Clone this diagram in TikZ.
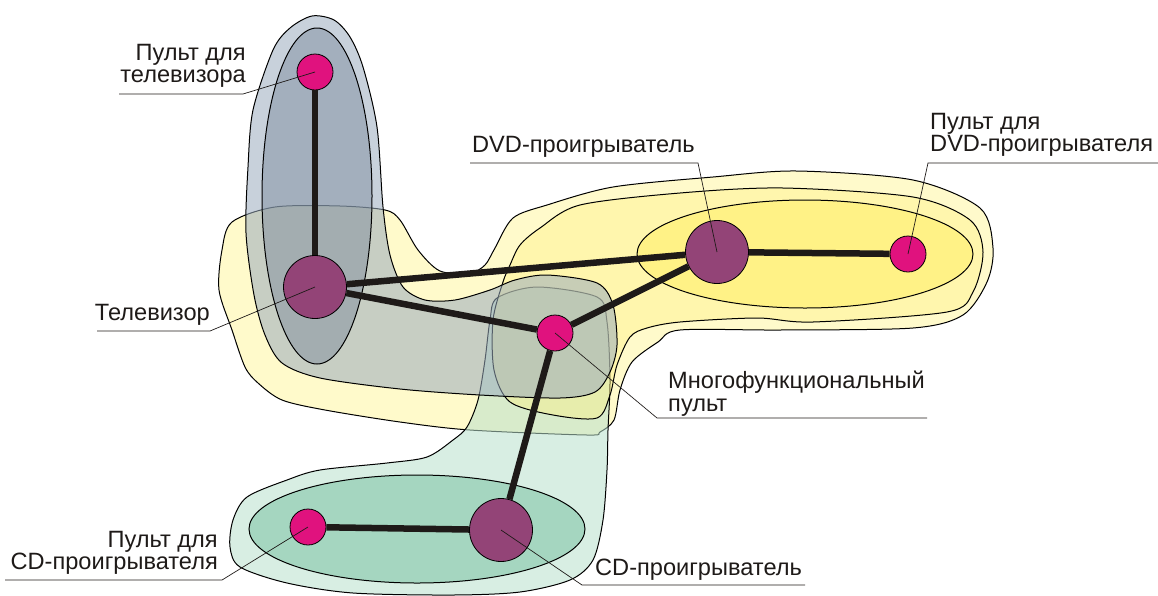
\documentclass[tikz,border=0pt]{standalone}
\usepackage{fontspec}
\setmainfont{Liberation Sans}
\usetikzlibrary{positioning}

\definecolor{remotecol}{HTML}{E0127E}
\definecolor{devicecol}{HTML}{934477}
\definecolor{linkcol}{HTML}{1E1A18}
\definecolor{tvouter}{HTML}{9AACBE}
\definecolor{tvinner}{HTML}{77879A}
\definecolor{dvdouter}{HTML}{FFF6A0}
\definecolor{dvdmid}{HTML}{FFF080}
\definecolor{dvdinner}{HTML}{FFF060}
\definecolor{cdouter}{HTML}{B8E0CC}
\definecolor{cdinner}{HTML}{7CC4A4}

\tikzset{
  blob/.style={draw=black, line width=1pt, fill opacity=0.55},
  remote/.style={circle, draw=black, line width=0.8pt, fill=remotecol, minimum size=36pt, inner sep=0pt},
  device/.style={circle, draw=black, line width=0.8pt, fill=devicecol, minimum size=63pt, inner sep=0pt},
  link/.style={line width=6.5pt, draw=linkcol},
  leader/.style={line width=0.7pt, draw=linkcol},
  lbl/.style={font=\fontsize{23.6}{22.5}\selectfont, text=linkcol, inner sep=0pt}
}

\begin{document}
\begin{tikzpicture}[x=1pt, y=-1pt]
    \useasboundingbox (0,0) rectangle (1158,595);
    % группа DVD: внешняя область (с телевизором)
    \path[blob, fill=dvdouter] plot[smooth cycle] coordinates {
        (232,222) (275,207) (340,206) (385,210) (400,220) (418,250) (440,271)
        (470,273) (485,265) (495,248) (513,218) (547,205) (613,187) (713,177)
        (797,171) (913,180) (980,208) (993,248) (987,282) (963,315) (913,328)
        (780,330) (680,330) (658,342) (632,362) (620,390) (614,420) (600,432)
        (587,435) (470,430) (400,422) (325,410) (282,400) (258,383) (245,367)
        (232,330) (219,290) (222,250)};
    % группа CD: внешняя область
    \path[blob, fill=cdouter] plot[smooth cycle] coordinates {
        (233,520) (247,497) (287,480) (320,470) (387,463) (427,457) (453,440)
        (467,427) (478,400) (485,360) (490,320) (497,298) (537,287) (597,297)
        (607,322) (610,380) (608,430) (607,470) (603,520) (593,560) (570,580)
        (520,592) (453,595) (353,593) (287,583) (240,567) (230,547)};
    % группа DVD: средняя область
    \path[blob, fill=dvdmid, fill opacity=0.4] plot[smooth cycle] coordinates {
        (503,282) (510,265) (520,245) (540,228) (580,205) (680,193) (783,188)
        (913,197) (970,220) (983,252) (973,292) (947,312) (813,322) (757,318)
        (680,322) (647,328) (630,337) (617,365) (610,395) (597,418) (553,415)
        (510,402) (494,370) (493,320)};
    % пары пульт + устройство
    \path[blob, fill=dvdinner, fill opacity=0.5] (805,254) ellipse (168 and 54);
    \path[blob, fill=cdinner] (417,529) ellipse (168 and 54);
    % группа телевизора
    \path[blob, fill=tvouter] plot[smooth cycle] coordinates {
        (312,16) (334,20) (350,37) (363,67) (377,127) (383,207) (390,255)
        (403,287) (425,300) (455,300) (490,290) (515,280) (547,275) (597,283)
        (613,305) (617,345) (610,372) (595,392) (560,398) (480,395) (400,389)
        (320,378) (282,363) (265,335) (254,295) (246,233) (248,167) (253,110)
        (273,50) (290,28)};
    \path[blob, fill=tvinner, fill opacity=0.45] (317,196) ellipse (55 and 168);

    % устройства и пульты
    \node[remote] (tvr) at (315,72) {};
    \node[device] (tv) at (315,287) {};
    \node[remote] (multi) at (555,333) {};
    \node[device] (dvd) at (717,252) {};
    \node[remote] (dvdr) at (908,254) {};
    \node[remote] (cdr) at (308,527) {};
    \node[device] (cd) at (501,530) {};

    % связи
    \draw[link] (tvr) -- (tv);
    \draw[link] (tv) -- (dvd);
    \draw[link] (tv) -- (multi);
    \draw[link] (multi) -- (dvd);
    \draw[link] (dvd) -- (dvdr);
    \draw[link] (multi) -- (cd);
    \draw[link] (cdr) -- (cd);

    % подписи
    \node[lbl, align=right, anchor=north east] (tvrL) at (246,44) {Пульт для\\телевизора};
    \node[lbl, anchor=north east] (tvL) at (210,304) {Телевизор};
    \node[lbl, anchor=north west] (dvdL) at (472,136) {DVD-проигрыватель};
    \node[lbl, align=left, anchor=north west] (dvdrL) at (930,113) {Пульт для\\DVD-проигрывателя};
    \node[lbl, align=left, anchor=north west] (multiL) at (668,371) {Многофункциональный\\пульт};
    \node[lbl, align=right, anchor=north east] (cdrL) at (218,531) {Пульт для\\CD-проигрывателя};
    \node[lbl, anchor=north west] (cdL) at (595,559) {CD-проигрыватель};

    % выноски
    \coordinate (tvrA) at (119,94);   \coordinate (tvrB) at (243,94);
    \coordinate (tvA) at (97,331);    \coordinate (tvB) at (210,331);
    \coordinate (dvdA) at (470,163);  \coordinate (dvdB) at (698,163);
    \coordinate (dvdrA) at (1158,163); \coordinate (dvdrB) at (928,163);
    \coordinate (multiA) at (927,418); \coordinate (multiB) at (657,418);
    \coordinate (cdrA) at (5,580);    \coordinate (cdrB) at (222,580);
    \coordinate (cdA) at (805,585);   \coordinate (cdB) at (582,585);
    \draw[leader] (tvrA) -- (tvrB) -- (tvr.center);
    \draw[leader] (tvA) -- (tvB) -- (tv.center);
    \draw[leader] (dvdA) -- (dvdB) -- (dvd.center);
    \draw[leader] (dvdrA) -- (dvdrB) -- (dvdr.center);
    \draw[leader] (multiA) -- (multiB) -- (multi.center);
    \draw[leader] (cdrA) -- (cdrB) -- (cdr.center);
    \draw[leader] (cdA) -- (cdB) -- (cd.center);
\end{tikzpicture}
\end{document}
